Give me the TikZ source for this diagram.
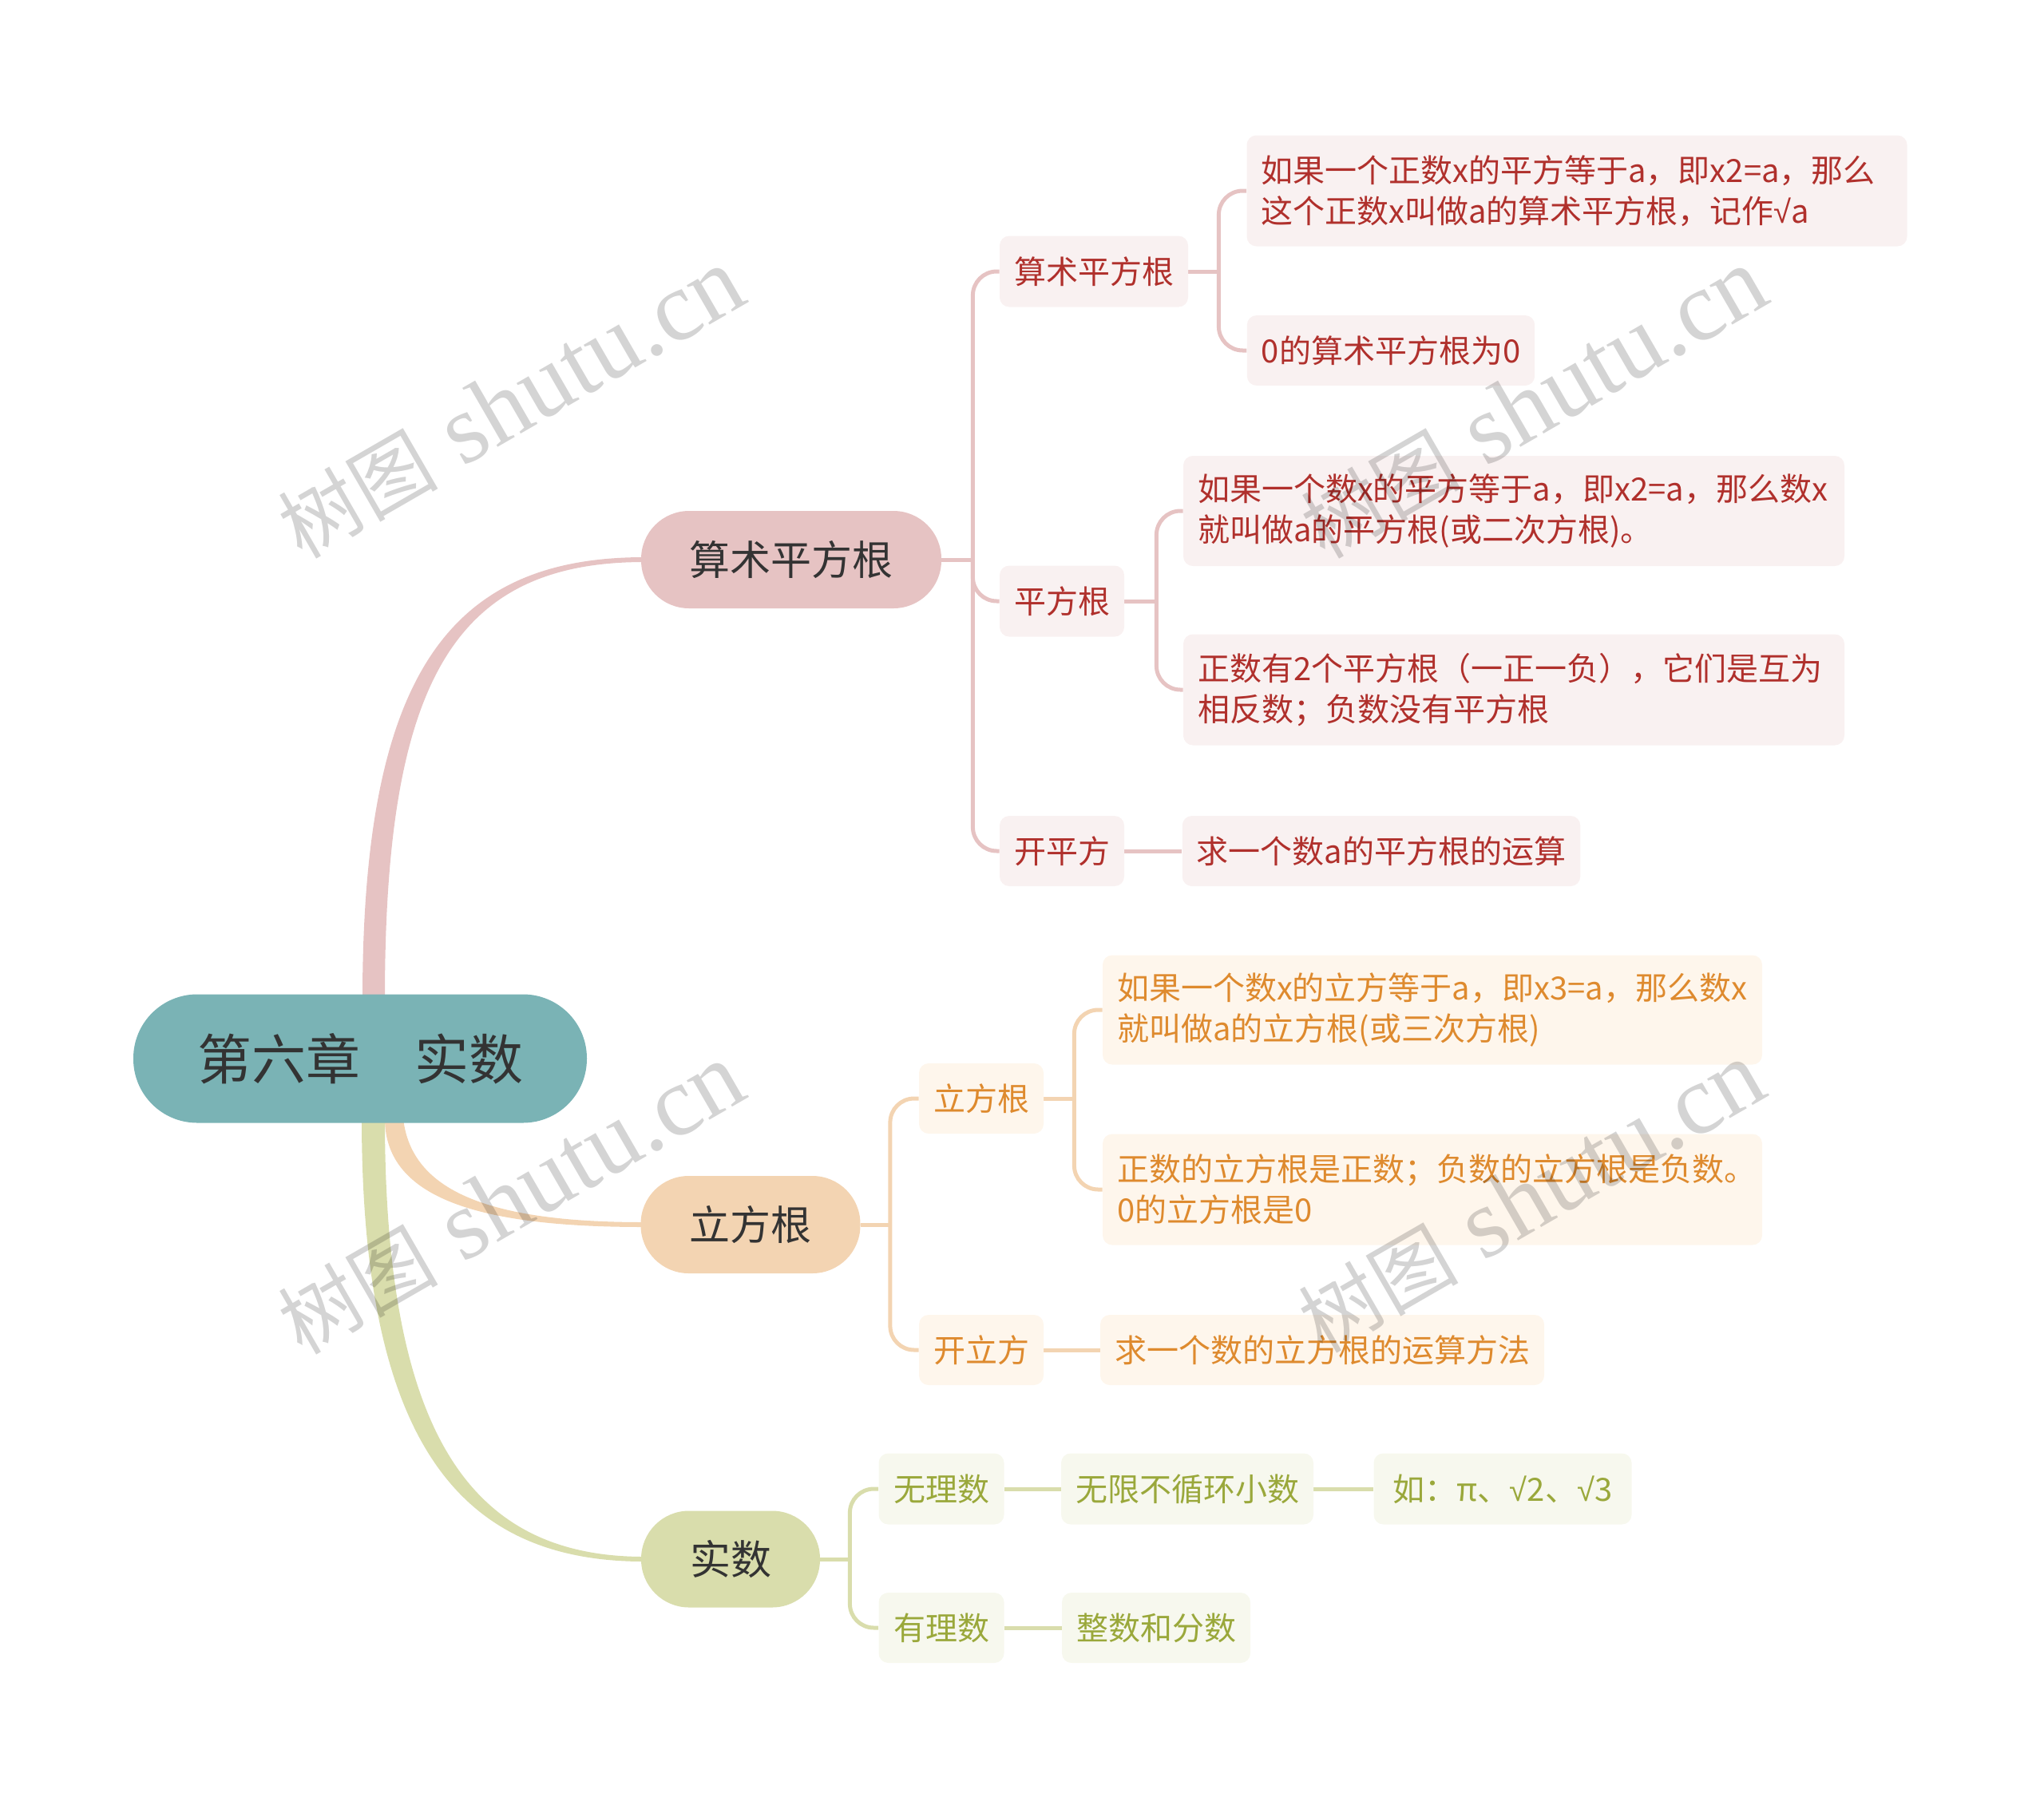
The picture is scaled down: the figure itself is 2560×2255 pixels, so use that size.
\documentclass[tikz,border=0pt]{standalone}
\usepackage{fontspec}
\newfontfamily\cjk{Noto Sans CJK SC}
\newfontfamily\wmserif{Liberation Serif}
\newfontfamily\rad{Liberation Sans}
\usetikzlibrary{calc}
\pgfdeclarelayer{bg}
\pgfsetlayers{bg,main}
\definecolor{rootc}{HTML}{7AB3B5}
\definecolor{pinkc}{HTML}{E6C3C3}
\definecolor{orangec}{HTML}{F3D4B2}
\definecolor{greenc}{HTML}{D9DDAC}
\definecolor{pinkl}{HTML}{F9F1F1}
\definecolor{orangel}{HTML}{FEF6EC}
\definecolor{greenl}{HTML}{F7F8EE}
\definecolor{pinkt}{HTML}{B0302C}
\definecolor{oranget}{HTML}{DE8A2E}
\definecolor{greent}{HTML}{9AA83B}
\definecolor{txt}{HTML}{333333}
\newcommand\sq{{\rad √}}
\newcommand\wmtext{{\cjk\fontsize{50pt}{60pt}\selectfont 树图}\hspace{16pt}{\wmserif\fontsize{62pt}{66pt}\selectfont shutu.cn}}
\tikzset{
  base/.style={inner sep=0pt},
  sz/.style 2 args={minimum width=#1pt, minimum height=#2pt},
  rootbox/.style={base, fill=rootc, rounded corners=40pt, text=txt, font=\cjk\fontsize{34pt}{40pt}\selectfont},
  topicbox/.style={base, rounded corners=30pt, text=txt, font=\cjk\fontsize{25.5pt}{30pt}\selectfont},
  leafbox/.style={base, inner xsep=9pt, rounded corners=6pt, font=\cjk\fontsize{20pt}{25.5pt}\selectfont},
  pinkleaf/.style={leafbox, fill=pinkl, text=pinkt},
  orangeleaf/.style={leafbox, fill=orangel, text=oranget},
  greenleaf/.style={leafbox, fill=greenl, text=greent},
  conn/.style={line width=2.5pt},
  brace/.style={line width=2.5pt, rounded corners=15pt},
  wm/.style={rotate=30, text=black, opacity=0.17, inner sep=0pt},
}
\begin{document}
\begin{tikzpicture}[x=0.5pt,y=-0.5pt]
\useasboundingbox (0,0) rectangle (2560,2255);

% ---------- root and topics ----------
\node[rootbox, sz={284}{80.5}] (R) at (451,1326) {第六章\char"3000 实数};
\node[topicbox, fill=pinkc, sz={188}{61}] (A) at (991,701) {算术平方根};
\node[topicbox, fill=orangec, sz={137.5}{61}] (B) at (940,1534) {立方根};
\node[topicbox, fill=greenc, sz={112}{60.5}] (C) at (915,1953) {实数};

% ---------- pink subtree ----------
\node[pinkleaf, sz={117.5}{44.5}] (A1) at (1370,340) {算术平方根};
\node[pinkleaf, sz={77.5}{44.5}] (A2) at (1330,753) {平方根};
\node[pinkleaf, sz={77.5}{44}] (A3) at (1330,1066) {开平方};
\node[pinkleaf, sz={413.5}{69.5}, text width=395.5pt, align=left] (A11) at (1975,239) {如果一个正数x的平方等于a，即x2=a，那么\\这个正数x叫做a的算术平方根，记作\sq a};
\node[pinkleaf, sz={180}{44}] (A12) at (1742,439) {0的算术平方根为0};
\node[pinkleaf, sz={414}{69}, text width=396pt, align=left] (A21) at (1896,640) {如果一个数x的平方等于a，即x2=a，那么数x\\就叫做a的平方根(或二次方根)。};
\node[pinkleaf, sz={414}{69.5}, text width=396pt, align=left] (A22) at (1896,864) {正数有2个平方根（一正一负），它们是互为\\相反数；负数没有平方根};
\node[pinkleaf, sz={247.5}{44}] (A31) at (1730,1066) {求一个数a的平方根的运算};

% ---------- orange subtree ----------
\node[orangeleaf, sz={77.5}{44}] (B1) at (1229,1376) {立方根};
\node[orangeleaf, sz={77.5}{44}] (B2) at (1229,1691) {开立方};
\node[orangeleaf, sz={413}{68.5}, text width=395pt, align=left] (B11) at (1794,1265) {如果一个数x的立方等于a，即x3=a，那么数x\\就叫做a的立方根(或三次方根)};
\node[orangeleaf, sz={413}{69.5}, text width=395pt, align=left] (B12) at (1794,1490) {正数的立方根是正数；负数的立方根是负数。\\0的立方根是0};
\node[orangeleaf, sz={275}{44}] (B21) at (1656,1691) {求一个数的立方根的运算方法};

% ---------- green subtree ----------
\node[greenleaf, sz={78.5}{44.5}] (C1) at (1179,1865) {无理数};
\node[greenleaf, sz={78.5}{44}] (C2) at (1179,2039) {有理数};
\node[greenleaf, sz={156.5}{44.5}] (C11) at (1487,1865) {无限不循环小数};
\node[greenleaf, sz={161.5}{44.5}] (C12) at (1882,1865) {如：π、\sq 2、\sq 3};
\node[greenleaf, sz={117.5}{44}] (C21) at (1448,2039) {整数和分数};

% ---------- junctions ----------
\coordinate (Aj) at ($(A.east)+(39,0)$);
\coordinate (Bj) at ($(B.east)+(37,0)$);
\coordinate (Cj) at ($(C.east)+(37,0)$);
\coordinate (A1j) at ($(A1.east)+(38,0)$);
\coordinate (A2j) at ($(A2.east)+(40,0)$);
\coordinate (B1j) at ($(B1.east)+(38,0)$);

\begin{pgfonlayer}{bg}
% thick tapered branches
\fill[pinkc] ($(R.north)+(3,6)$) .. controls ($(R.north)+(3,-400)$) and ($(A.west)+(-240,-3)$) .. ($(A.west)+(4,-3)$)
  -- ($(A.west)+(4,3)$) .. controls ($(A.west)+(-235,3)$) and ($(R.north)+(31,-390)$) .. ($(R.north)+(31,6)$) -- cycle;
\fill[orangec] ($(R.south)+(54,-6)$) .. controls ($(R.south)+(64,85)$) and ($(B.west)+(-190,-3)$) .. ($(B.west)+(4,-3)$)
  -- ($(B.west)+(4,3)$) .. controls ($(B.west)+(-200,3)$) and ($(R.south)+(31,95)$) .. ($(R.south)+(31,-6)$) -- cycle;
\fill[greenc] ($(R.south)+(2,-6)$) .. controls ($(R.south)+(2,410)$) and ($(C.west)+(-220,3)$) .. ($(C.west)+(4,3)$)
  -- ($(C.west)+(4,-3)$) .. controls ($(C.west)+(-210,-3)$) and ($(R.south)+(31,395)$) .. ($(R.south)+(31,-6)$) -- cycle;

\begin{scope}[draw=pinkc]
\draw[conn] (A.east) -- (Aj);
\draw[brace] (Aj) |- (A1.west);
\draw[brace] (Aj) |- (A2.west);
\draw[brace] (Aj) |- (A3.west);
\draw[conn] (A1.east) -- (A1j);
\draw[brace] (A1j) |- (A11.west);
\draw[brace] (A1j) |- (A12.west);
\draw[conn] (A2.east) -- (A2j);
\draw[brace] (A2j) |- (A21.west);
\draw[brace] (A2j) |- (A22.west);
\draw[conn] (A3.east) -- (A31.west);
\end{scope}
\begin{scope}[draw=orangec]
\draw[conn] (B.east) -- (Bj);
\draw[brace] (Bj) |- (B1.west);
\draw[brace] (Bj) |- (B2.west);
\draw[conn] (B1.east) -- (B1j);
\draw[brace] (B1j) |- (B11.west);
\draw[brace] (B1j) |- (B12.west);
\draw[conn] (B2.east) -- (B21.west);
\end{scope}
\begin{scope}[draw=greenc]
\draw[conn] (C.east) -- (Cj);
\draw[brace] (Cj) |- (C1.west);
\draw[brace] (Cj) |- (C2.west);
\draw[conn] (C1.east) -- (C11.west);
\draw[conn] (C11.east) -- (C12.west);
\draw[conn] (C2.east) -- (C21.west);
\end{scope}
\end{pgfonlayer}

% ---------- watermarks ----------
\node[wm] (W1) at (640,506) {\wmtext};
\node[wm] (W2) at (1921,506) {\wmtext};
\node[wm] (W3) at (640,1502) {\wmtext};
\node[wm] (W4) at (1918,1500) {\wmtext};
\end{tikzpicture}
\end{document}
